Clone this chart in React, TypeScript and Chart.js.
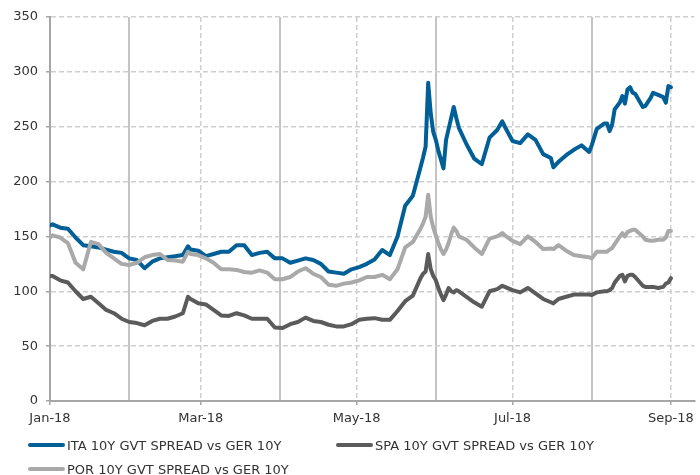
import React, { useEffect, useRef } from "react";
import { Chart, registerables } from "chart.js";

Chart.register(...registerables);

// x values: days since 1 Jan 2018
const dayOffsets = [
  0, 1, 4, 7, 10, 13, 16, 19, 22, 25, 28, 31, 34, 37, 40, 43, 46, 49, 52, 54, 55, 58,
  61, 64, 67, 70, 73, 76, 79, 82, 85, 88, 91, 94, 97, 100, 103, 106, 109, 112, 115, 118,
  121, 124, 127, 130, 133, 136, 139, 142, 145, 146, 147, 148, 149, 150, 151, 152, 153,
  154, 155, 156, 157, 158, 159, 160, 163, 166, 169, 172, 175, 177, 178, 181, 184, 187,
  190, 193, 196, 197, 199, 202, 205, 208, 211, 212, 214, 217, 218, 219, 220, 221, 223,
  224, 225, 226, 227, 228, 229, 232, 233, 235, 236, 238, 240, 241, 242, 243,
];

const itaSpread = [
  160, 161, 158, 157, 149, 142, 141, 140, 138, 136, 135, 130, 128.5, 121, 127, 130, 131, 132, 133, 141, 138, 137,
  132, 134, 136, 136, 142, 142, 133, 135, 136, 130, 130, 126, 128, 130, 128.5, 125, 118, 117, 116, 120,
  122, 125, 129, 137.6, 133, 150, 178, 187, 213, 222, 232, 290, 262, 245, 238, 228, 220,
  212, 238, 248, 258, 268, 258, 249, 234, 221, 216, 240, 247, 255, 250, 237, 235, 243,
  238, 225, 221.5, 213, 218, 224, 229, 233, 227, 233, 248, 253, 253, 246, 252, 266, 272,
  278, 271, 284, 286, 281, 280, 268, 269, 276, 280.8, 279, 277, 272, 287, 286,
];

const spaSpread = [
  114, 114, 110, 108, 100, 93, 95, 89, 83, 80, 75, 72, 71, 69, 73, 75, 75, 77, 80, 95, 93, 89,
  88, 83, 78, 77.5, 80, 78, 75, 75, 75, 67, 66.5, 70, 72, 76, 73, 72, 69.5, 68, 68, 70,
  74, 75, 75.5, 74, 74, 82, 91, 96, 112, 116, 118, 134, 120, 114, 110, 103, 97,
  92, 97, 103, 100, 99, 101, 100, 95, 90, 86, 100, 102, 105, 104, 101, 99, 103,
  98, 93, 90, 89, 93, 95, 97, 97, 97, 96.6, 99, 100, 100, 101, 103, 108, 114,
  115, 109, 114, 115, 115, 113, 105, 104, 104, 104, 103, 104, 107, 108, 112,
];

const porSpread = [
  149, 151, 149, 144, 126, 120, 145, 143, 135, 130, 125, 124, 126, 131, 133, 134, 128.5, 128, 127, 136, 134, 133,
  130, 126, 120, 120, 119.5, 117.6, 117, 119, 117, 111, 111, 113, 118, 121, 116, 113, 106, 105, 107, 108,
  110, 113, 113, 115, 111, 120, 140, 145, 157, 162, 168, 188, 168, 158, 151, 144, 138,
  134, 138, 144, 152, 158, 155, 150, 147, 140, 134, 148, 150, 153, 151, 146, 143, 150,
  145, 138.5, 139, 138.5, 142, 137, 133, 132, 131, 130, 136, 136, 136, 138, 139.5, 143, 150,
  153, 150, 154, 155, 156, 156, 150, 147, 146, 146, 147, 147, 149, 155, 155,
];

const seriesNames = [
  "ITA 10Y GVT SPREAD vs GER 10Y",
  "SPA 10Y GVT SPREAD vs GER 10Y",
  "POR 10Y GVT SPREAD vs GER 10Y",
];
const seriesColors = ["#005f96", "#5b5b5b", "#a9a9a9"];

const labeledMonthDays = [0, 59, 120, 181, 243];
const labeledMonthNames = ["Jan-18", "Mar-18", "May-18", "Jul-18", "Sep-18"];
const otherMonthDays = [31, 90, 151, 212];
const yTicks = [0, 50, 100, 150, 200, 250, 300, 350];

const FONT = "'DejaVu Sans', Verdana, sans-serif";

export default function App() {
  const ref = useRef<HTMLCanvasElement | null>(null);

  useEffect(() => {
    if (!ref.current) return;
    const toPts = (vals: number[]) => dayOffsets.map((d, i) => ({ x: d, y: vals[i] }));
    const mk = (i: number, vals: number[], order: number) => ({
      label: seriesNames[i],
      data: toPts(vals),
      borderColor: seriesColors[i],
      backgroundColor: seriesColors[i],
      borderWidth: 4,
      pointRadius: 0,
      tension: 0,
      borderJoinStyle: "round" as const,
      borderCapStyle: "round" as const,
      fill: false,
      order,
    });
    const chart = new Chart(ref.current, {
      type: "line",
      data: {
        datasets: [mk(0, itaSpread, 1), mk(1, spaSpread, 2), mk(2, porSpread, 0)],
      },
      options: {
        animation: false,
        responsive: false,
        devicePixelRatio: 1,
        layout: { padding: { top: 17, right: 0, bottom: 0, left: 0 } },
        plugins: { legend: { display: false }, tooltip: { enabled: false } },
        scales: {
          x: {
            type: "linear",
            position: "bottom",
            min: 0,
            max: 252.2,
            afterBuildTicks: (s: any) => {
              s.ticks = labeledMonthDays.map((v) => ({ value: v }));
            },
            afterFit: (s: any) => {
              s.height = 74;
            },
            ticks: {
              autoSkip: false,
              maxRotation: 0,
              padding: 6,
              color: "#333",
              font: { family: FONT, size: 13 },
              callback: (v: any) => {
                const idx = labeledMonthDays.indexOf(Number(v));
                return idx >= 0 ? labeledMonthNames[idx] : "";
              },
            },
            grid: {
              color: "#cfcfcf",
              lineWidth: 1.5,
              tickLength: 4,
              tickColor: "#a6a6a6",
              tickWidth: 1.5,
              tickBorderDash: [],
            } as any,
            border: { display: true, color: "#a6a6a6", width: 2, dash: [5, 3] },
          },
          x2: {
            type: "linear",
            position: "top",
            min: 0,
            max: 252.2,
            afterBuildTicks: (s: any) => {
              s.ticks = otherMonthDays.map((v) => ({ value: v }));
            },
            afterFit: (s: any) => {
              s.height = 0;
            },
            ticks: { display: false },
            grid: { color: "#c4c4c4", lineWidth: 2, drawTicks: false },
            border: { display: false },
          },
          y: {
            min: 0,
            max: 350,
            afterBuildTicks: (s: any) => {
              s.ticks = yTicks.map((v) => ({ value: v }));
            },
            afterFit: (s: any) => {
              s.width = 50;
            },
            ticks: {
              padding: 8,
              color: "#333",
              font: { family: FONT, size: 13 },
            },
            grid: {
              color: "#cfcfcf",
              lineWidth: 1.5,
              tickLength: 4,
              tickColor: "#a6a6a6",
              tickWidth: 1.5,
              tickBorderDash: [],
            } as any,
            border: { display: true, color: "#a6a6a6", width: 2, dash: [5, 3] },
          },
        },
      } as any,
    });
    return () => chart.destroy();
  }, []);

  const legendItem = (i: number, left: number, top: number) => (
    <div
      key={i}
      style={{
        position: "absolute",
        left,
        top,
        height: 16,
        display: "flex",
        alignItems: "center",
        whiteSpace: "nowrap",
        fontFamily: FONT,
        fontSize: 13,
        color: "#333",
      }}
    >
      <span
        style={{
          display: "inline-block",
          width: 37,
          height: 4,
          borderRadius: 2,
          background: seriesColors[i],
          marginRight: 2,
        }}
      />
      <span>{seriesNames[i]}</span>
    </div>
  );

  return (
    <div
      style={{
        position: "fixed",
        left: 0,
        top: 0,
        width: 700,
        height: 475,
        background: "#fff",
        overflow: "hidden",
      }}
    >
      <canvas ref={ref} width={700} height={475} style={{ display: "block", width: 700, height: 475 }} />
      {legendItem(0, 28, 437)}
      {legendItem(1, 336, 437)}
      {legendItem(2, 28, 461)}
    </div>
  );
}
